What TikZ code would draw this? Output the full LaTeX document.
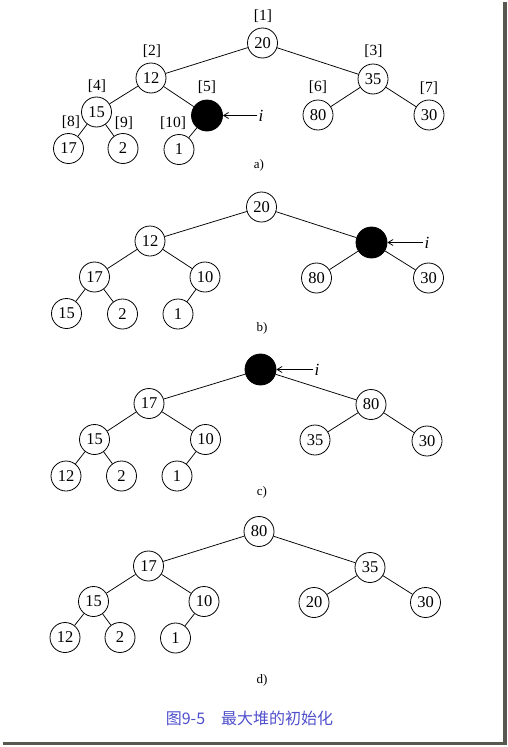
\documentclass[tikz,border=0pt]{standalone}
\usepackage{fontspec}
\setmainfont{Liberation Serif}
\newfontfamily\cjk{Noto Sans CJK SC}
\usetikzlibrary{arrows.meta}
\definecolor{capblue}{RGB}{80,80,205}
\definecolor{shadowgray}{RGB}{88,88,80}
\tikzset{
  hn/.style={circle,draw,line width=0.8pt,minimum size=30pt,inner sep=0pt,font=\fontsize{16.5}{16.5}\selectfont},
  bn/.style={circle,draw,fill=black,line width=0.8pt,minimum size=31pt,inner sep=0pt},
  idx/.style={font=\fontsize{15.5}{15.5}\selectfont,inner sep=0pt},
  sub/.style={font=\fontsize{13}{13}\selectfont,inner sep=0pt},
  ilab/.style={font=\fontsize{17}{17}\selectfont\itshape,inner sep=1pt},
  ed/.style={line width=0.75pt},
  iarrow/.style={line width=0.75pt,-{Straight Barb[length=5pt,width=6pt]}}
}
\begin{document}
\begin{tikzpicture}[x=1pt,y=-1pt]
\useasboundingbox (0,0) rectangle (508,747);
\fill[white] (0,0) rectangle (508,747);
\fill[shadowgray] (503,2) rectangle (507,745);
\fill[shadowgray] (3,742) rectangle (507,745);
% ---------- a)
\node[hn] (a1) at (262.5,43) {20};
\node[hn] (a2) at (151,78) {12};
\node[hn] (a3) at (373,79) {35};
\node[hn] (a4) at (96.5,112) {15};
\node[bn] (a5) at (207,115.5) {};
\node[hn] (a6) at (318,115) {80};
\node[hn] (a7) at (429,115) {30};
\node[hn] (a8) at (68.5,148.5) {17};
\node[hn] (a9) at (123,148.5) {2};
\node[hn] (a10) at (179,149.5) {1};
\draw[ed] (a1)--(a2) (a1)--(a3) (a2)--(a4) (a2)--(a5) (a3)--(a6) (a3)--(a7)
  (a4)--(a8) (a4)--(a9) (a5)--(a10);
\node[idx] (la1) at (263,16) {[1]};
\node[idx] (la2) at (152,51.5) {[2]};
\node[idx] (la3) at (373.5,51.5) {[3]};
\node[idx] (la4) at (97,86.5) {[4]};
\node[idx] (la5) at (207,87) {[5]};
\node[idx] (la6) at (318,87.5) {[6]};
\node[idx] (la7) at (429,88) {[7]};
\node[idx] (la8) at (71,122.5) {[8]};
\node[idx] (la9) at (124,123) {[9]};
\node[idx] (la10) at (173,123) {[10]};
\node[ilab] (ia) at (261,115.5) {i};
\draw[iarrow] (ia.west) -- (a5.east);
\node[sub] (sa) at (259,165) {a)};
% ---------- b)
\node[hn] (b1) at (261.5,207) {20};
\node[hn] (b2) at (150,241) {12};
\node[bn] (b3) at (371.5,242.5) {};
\node[hn] (b4) at (94.5,277) {17};
\node[hn] (b5) at (205,277) {10};
\node[hn] (b6) at (316.5,278) {80};
\node[hn] (b7) at (428.5,278) {30};
\node[hn] (b8) at (66.5,313.5) {15};
\node[hn] (b9) at (122.5,314) {2};
\node[hn] (b10) at (178,314) {1};
\draw[ed] (b1)--(b2) (b1)--(b3) (b2)--(b4) (b2)--(b5) (b3)--(b6) (b3)--(b7)
  (b4)--(b8) (b4)--(b9) (b5)--(b10);
\node[ilab] (ib) at (427,242.5) {i};
\draw[iarrow] (ib.west) -- (b3.east);
\node[sub] (sb) at (262,328.5) {b)};
% ---------- c)
\node[bn] (c1) at (260.5,369.5) {};
\node[hn] (c2) at (149,403.5) {17};
\node[hn] (c3) at (371,404.5) {80};
\node[hn] (c4) at (94.5,439.5) {15};
\node[hn] (c5) at (205.5,439.5) {10};
\node[hn] (c6) at (315,440) {35};
\node[hn] (c7) at (427,441) {30};
\node[hn] (c8) at (66,476) {12};
\node[hn] (c9) at (121.5,476) {2};
\node[hn] (c10) at (177,476) {1};
\draw[ed] (c1)--(c2) (c1)--(c3) (c2)--(c4) (c2)--(c5) (c3)--(c6) (c3)--(c7)
  (c4)--(c8) (c4)--(c9) (c5)--(c10);
\node[ilab] (ic) at (317,369.5) {i};
\draw[iarrow] (ic.west) -- (c1.east);
\node[sub] (sc) at (262,492) {c)};
% ---------- d)
\node[hn] (d1) at (259,531.5) {80};
\node[hn] (d2) at (148.5,566) {17};
\node[hn] (d3) at (370,567.5) {35};
\node[hn] (d4) at (93.5,601.5) {15};
\node[hn] (d5) at (204,601.5) {10};
\node[hn] (d6) at (314,602.5) {20};
\node[hn] (d7) at (425.5,602.5) {30};
\node[hn] (d8) at (65,637.5) {12};
\node[hn] (d9) at (120,637.5) {2};
\node[hn] (d10) at (175.5,638) {1};
\draw[ed] (d1)--(d2) (d1)--(d3) (d2)--(d4) (d2)--(d5) (d3)--(d6) (d3)--(d7)
  (d4)--(d8) (d4)--(d9) (d5)--(d10);
\node[sub] (sd) at (262,680) {d)};
% ---------- caption
\node[inner sep=0pt,text=capblue,font=\cjk\fontsize{16}{16}\selectfont] (cap) at (249.5,718) {图9-5\hspace{16pt}最大堆的初始化};
\end{tikzpicture}
\end{document}
